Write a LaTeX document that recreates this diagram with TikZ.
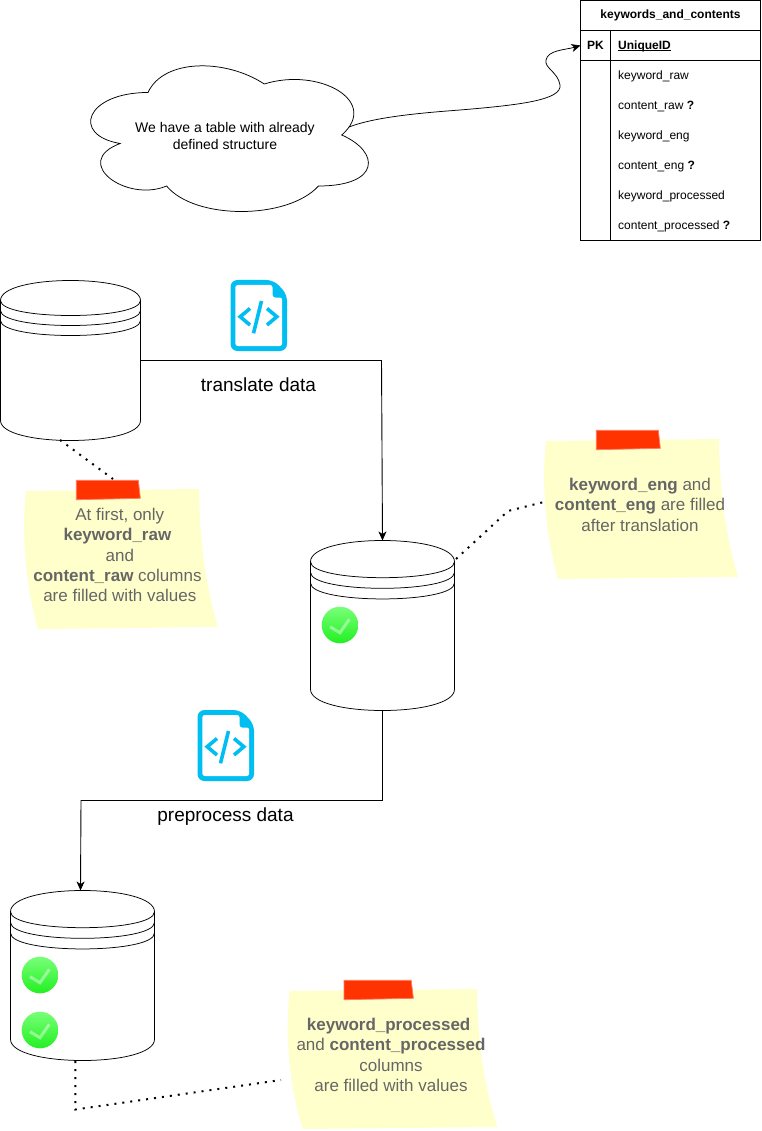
\documentclass[tikz,border=0pt]{standalone}
\usepackage{fontspec}
\setmainfont{Liberation Sans}
\usetikzlibrary{arrows.meta}
\definecolor{notey}{HTML}{FFFFCC}
\definecolor{notet}{HTML}{666666}
\definecolor{taper}{HTML}{FF3300}
\definecolor{tapeb}{HTML}{FF7A60}
\definecolor{iconb}{HTML}{00BEF2}
\definecolor{gtop}{HTML}{78FF78}
\definecolor{gbot}{HTML}{22F022}
\tikzset{
  x=1pt,y=-1pt,
  line width=1pt,
  conn/.style={draw=black,line width=0.9pt},
  arrowed/.style={conn,-{Stealth[length=9pt,width=8pt,inset=2.5pt]}},
  dots/.style={draw=black,line width=2pt,dash pattern=on 2pt off 6pt},
  cell/.style={draw=black,rectangle,inner sep=0pt,outer sep=0pt,line width=0.9pt,font=\fontsize{12}{14}\selectfont\bfseries},
  rowtext/.style={anchor=base west,inner sep=0pt,font=\fontsize{12}{14}\selectfont},
  dbbox/.style={rectangle,inner sep=0pt,outer sep=0pt},
  dbline/.style={draw=black,line width=0.75pt},
  notetext/.style={align=center,inner sep=0pt,text=notet,font=\fontsize{17}{20.4}\selectfont},
  biglabel/.style={anchor=base,inner sep=0pt,font=\fontsize{19}{23}\selectfont},
  iconsym/.style={draw=iconb,line width=3.6pt},
}
% x y w h dy name
\newcommand{\dbcyl}[6]{%
  \node[dbbox,minimum width=#3pt,minimum height=#4pt] (#6) at ({#1+#3/2},{#2+#4/2}) {};
  \begin{scope}[shift={(#1,#2)}]
    \pgfmathsetmacro{\dyA}{#5}
    \pgfmathsetmacro{\dyB}{#5*1.5}
    \pgfmathsetmacro{\dyC}{#5*2}
    \pgfmathsetmacro{\dyD}{#5*2.5}
    \pgfmathsetmacro{\dyE}{#5*3}
    \pgfmathsetmacro{\dyT}{-#5/3}
    \pgfmathsetmacro{\hB}{#4-#5}
    \pgfmathsetmacro{\hC}{#4+#5/3}
    \draw[dbline,fill=white] (0,\dyA) .. controls (0,\dyT) and (#3,\dyT) .. (#3,\dyA)
       -- (#3,\hB) .. controls (#3,\hC) and (0,\hC) .. (0,\hB) -- cycle;
    \draw[dbline] (0,\dyA) .. controls (0,\dyC) and (#3,\dyC) .. (#3,\dyA);
    \draw[dbline] (0,\dyB) .. controls (0,\dyD) and (#3,\dyD) .. (#3,\dyB);
    \draw[dbline] (0,\dyC) .. controls (0,\dyE) and (#3,\dyE) .. (#3,\dyC);
  \end{scope}}
% x y xscale
\newcommand{\stickynote}[3]{%
  \begin{scope}[shift={(#1,#2)},xscale=#3]
    \fill[notey] (2,2) -- (175,0) .. controls (176,50) and (180,90) .. (194,138)
       -- (14,140) .. controls (0,90) and (-2,40) .. (2,2) -- cycle;
    \draw[fill=taper,draw=tapeb,line width=0.8pt] (52.3,-8.7) -- (114.3,-8.7) -- (116.3,9.3) -- (52.3,10.7) -- cycle;
  \end{scope}}
% x y
\newcommand{\codeicon}[2]{%
  \begin{scope}[shift={(#1,#2)}]
    \fill[iconb,rounded corners=7pt] (0,0) -- (43,0) -- (56.5,14) -- (56.5,71) -- (0,71) -- cycle;
    \fill[white,rounded corners=2.5pt] (4.8,5) -- (42,5) -- (42,17.5) -- (51.7,17.5) -- (51.7,66) -- (4.8,66) -- cycle;
    \draw[iconsym] (19.5,28.5) -- (9.7,36.7) -- (19.5,45);
    \draw[iconsym] (36.5,28.5) -- (46.3,36.7) -- (36.5,45);
    \draw[iconsym] (31,21) -- (23,53.3);
  \end{scope}}
% cx cy
\newcommand{\greencheck}[2]{%
  \shade[top color=gtop,bottom color=gbot] (#1,#2) circle[radius=18.3];
  \draw[white,opacity=0.42,line width=3pt] ({#1-10},{#2+1.7}) -- ({#1},{#2+7.7}) -- ({#1+9.3},{#2-5.7});}
\begin{document}
\begin{tikzpicture}
\useasboundingbox (0,0) rectangle (761,1131);
\fill[white] (0,0) rectangle (761,1131);

% cloud
\begin{scope}[shift={(70.5,50)}]
\draw[fill=white,line width=0.75pt]
 (77.5,42.5) .. controls (15.5,42.5) and (0,85) .. (49.6,93.5)
 .. controls (0,112.2) and (55.8,153) .. (96.1,136)
 .. controls (124,170) and (217,170) .. (248,136)
 .. controls (310,136) and (310,102) .. (271.25,85)
 .. controls (310,51) and (248,17) .. (193.75,34)
 .. controls (155,8.5) and (93,8.5) .. (77.5,42.5) -- cycle;
\end{scope}
\node[inner sep=0pt,align=center,font=\fontsize{14}{17}\selectfont] (cloud) at (225,135.5) {We have a table with already\\defined structure};
\coordinate (cloudout) at (349,127);

% table
\node[cell,minimum width=180pt,minimum height=30pt] (ttitle) at (670.5,15.5) {keywords\_and\_contents};
\node[cell,minimum width=30pt,minimum height=30pt] (pk) at (595.5,45.5) {PK};
\node[cell,minimum width=150pt,minimum height=30pt] (uidcell) at (685.5,45.5) {};
\node[cell,minimum width=30pt,minimum height=180pt] (leftcol) at (595.5,150.5) {};
\node[cell,minimum width=150pt,minimum height=180pt] (rightcol) at (685.5,150.5) {};
\node[rowtext,font=\fontsize{12}{14}\selectfont\bfseries] (uid) at (618,49.5) {\rlap{\rule[-1.3pt]{52.4pt}{0.9pt}}UniqueID};
\node[rowtext] (r1) at (618,79.3) {keyword\_raw};
\node[rowtext] (r2) at (618,109.3) {content\_raw \textbf{?}};
\node[rowtext] (r3) at (618,139.3) {keyword\_eng};
\node[rowtext] (r4) at (618,169.3) {content\_eng \textbf{?}};
\node[rowtext] (r5) at (618,199.3) {keyword\_processed};
\node[rowtext] (r6) at (618,229.3) {content\_processed \textbf{?}};

\draw[arrowed,line width=0.75pt] (cloudout) .. controls (375,117) and (420,113) .. (460,110)
  .. controls (520,105) and (562,100) .. (560,85)
  .. controls (558,72) and (544,68) .. (546,60)
  .. controls (548,50) and (565,50) .. (pk.west);

% databases
\dbcyl{0.5}{280.5}{140}{160}{20}{dba}
\dbcyl{310.5}{540.5}{144}{170}{21.25}{dbb}
\dbcyl{10.5}{890.5}{144}{170}{21.25}{dbc}

\greencheck{340}{625}
\greencheck{40}{975}
\greencheck{40}{1030}

% icons
\codeicon{230.5}{280}
\codeicon{197.5}{710}

% flow connectors
\coordinate (bendA) at (381.5,360.5);
\coordinate (bendB) at (382.5,800.5);
\coordinate (bendC) at (81,800.5);
\coordinate (dbcin) at (80.5,890.5);
\draw[arrowed] (dba.east) -- (bendA) -- (dbb.north);
\draw[arrowed] (dbb.south) -- (bendB) -- (bendC) -- (dbcin);
\node[biglabel] (ltrans) at (258.5,391.5) {translate data};
\node[biglabel] (lprep) at (225.5,821.5) {preprocess data};

% notes
\stickynote{24}{489}{1}
\stickynote{544}{439}{1}
\stickynote{287.5}{989}{1.082}

\node[notetext] (na) at (119.8,555) {At first, only\\\textbf{keyword\_raw}\mbox{\hspace{4.7pt}}\\and\\\textbf{content\_raw} columns\mbox{\hspace{4.7pt}}\\are filled with values};
\node[notetext] (nb) at (640,504.8) {\textbf{keyword\_eng} and\\\textbf{content\_eng} are filled\\after translation};
\node[notetext] (nc) at (391,1055) {\textbf{keyword\_processed}\mbox{\hspace{4.7pt}}\\and \textbf{content\_processed}\\columns\\are filled with values};

% dotted connectors
\coordinate (dbaout) at (60,440);
\coordinate (tapea) at (113,479);
\draw[dots] (dbaout) -- (tapea);
\coordinate (dbbout) at (456,559);
\coordinate (bendD) at (508,511);
\coordinate (noteb) at (544,502);
\draw[dots] (dbbout) -- (bendD) -- (noteb);
\coordinate (dbcout) at (75.3,1061);
\coordinate (bendE) at (75.3,1109.5);
\coordinate (notec) at (281,1080);
\draw[dots] (dbcout) -- (bendE) -- (notec);
\end{tikzpicture}
\end{document}
